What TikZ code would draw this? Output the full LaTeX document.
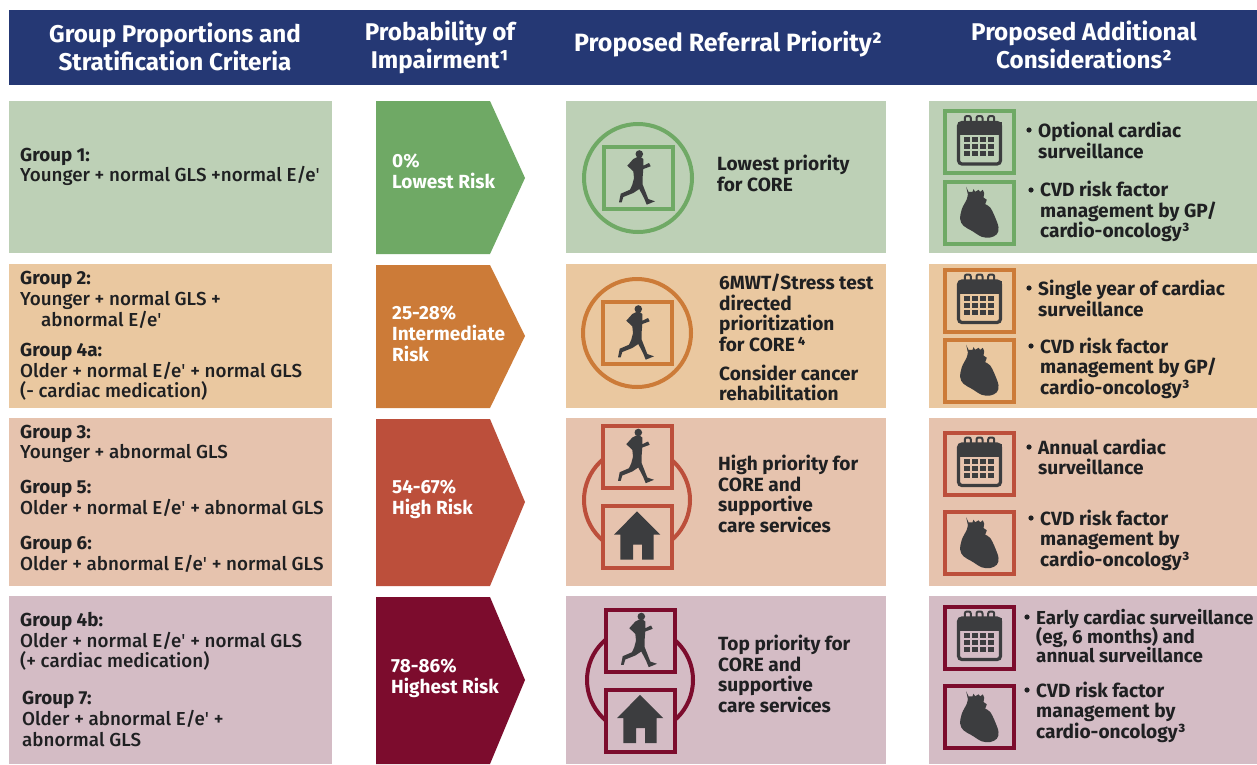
\documentclass[tikz,border=0pt]{standalone}
\usepackage{fontspec}
\setmainfont{Fira Sans}[UprightFont=* Medium,BoldFont=* Bold]
\newfontfamily\primefont{Fira Sans}
\newcommand{\pr}{{\primefont'}}
\newcommand{\sups}[1]{{\addfontfeature{VerticalPosition=Superior}#1}}
\definecolor{hdr}{HTML}{253874}
\definecolor{ink}{HTML}{1F2022}
\definecolor{ic}{HTML}{3C3D3F}
\definecolor{ba}{HTML}{BDD0B6}\definecolor{aa}{HTML}{6FA965}
\definecolor{bb}{HTML}{EAC8A0}\definecolor{ab}{HTML}{CC7B38}
\definecolor{bc}{HTML}{E6C3AE}\definecolor{ac}{HTML}{BC4F3B}
\definecolor{bd}{HTML}{D4BCC5}\definecolor{ad}{HTML}{7C0C2D}
\tikzset{x=1pt,y=-1pt,
 headtxt/.style={text=white,font=\fontsize{24.2}{28}\selectfont\bfseries,align=center,inner sep=0pt},
 gtxt/.style={text=ink,font=\fontsize{18.8}{20.7}\selectfont,align=left,anchor=west,inner sep=0pt},
 ptxt/.style={text=ink,font=\fontsize{19.1}{20.5}\selectfont\bfseries,align=left,anchor=west,inner sep=0pt},
 atxt/.style={text=white,font=\fontsize{19}{20.7}\selectfont\bfseries,align=left,anchor=west,inner sep=0pt},
 ring/.style={line width=4pt},
 pics/runner/.style={code={
  \fill[ic] (1.3,-24) circle (3.8);
  \fill[ic] (-0.7,-21)--(-4.7,-19)--(-10.7,-12.3)--(-4.7,-6.7)--(-4,0)--(-5.7,6.7)--(-8,11.7)--(-17.3,15.7)--(-19,24.3)--(-16.3,24.3)--(-14.7,19)--(-4.7,15)--(1.3,11)--(6,20)--(8.7,26.7)--(17,23.3)--(10.3,21)--(4.7,6.7)--(4.7,-1.7)--(5.3,-9)--(12.7,-11.7)--(11,-15)--(5.3,-12.3)--(5.3,-19)--(2.7,-21)--cycle;
 }},
 pics/heart/.style={code={
  \fill[ic] (-13.3,-25.7)--(-11,-20.7)--(-7,-20.7)--(-6,-23.3)--(-4.3,-20.7)--(-1,-22.7)--(0.7,-20.7)--(3.3,-22.7)--(4.7,-19.3)--(4,-15)--(7.3,-12.7)--
   plot[smooth,tension=0.6] coordinates {(5.7,-8.3) (10.7,-5) (15.7,5) (19,15) (17.3,21.7) (10.7,25) (2.3,24.3) (-7.7,18.3) (-16,13.3) (-19.3,6.7) (-17.7,-3.3) (-12.7,-13.3) (-11.7,-18.3)} -- cycle;
 }},
 pics/house/.style={code={
  \fill[ic] (0,-25.7)--(23.3,-2.3)--(16.7,-2.3)--(16.7,22.7)--(5,22.7)--(5,7.7)--(-4,7.7)--(-4,22.7)--(-16.7,22.7)--(-16.7,-2.3)--(-23,-2.3)--cycle;
 }},
 pics/cal/.style={code={
  \draw[ic,line width=3.2pt,rounded corners=3.5pt] (-21,-19.5) rectangle (21,22);
  \fill[ic] (-22,-20) rectangle (22,-7);
  \foreach \xx in {-11.7,0,11.7}{
   \draw[ic,line width=2pt,fill=none,rounded corners=2pt] (\xx-3,-15) -- (\xx-3,-26) -- (\xx+3,-26) -- (\xx+3,-15);
  }
  \foreach \xx in {-16,-8,0,8}{\foreach \yy in {-5,2,9}{
   \fill[ic] (\xx,\yy) rectangle +(6.2,5.2);
  }}
 }},
 pics/runbox/.style n args={2}{code={
  \draw[line width=4pt,draw=#1,fill=#2] (-34.5,-31) rectangle (34.5,31);
  \pic {runner};
 }},
 pics/housebox/.style n args={2}{code={
  \draw[line width=4pt,draw=#1,fill=#2] (-34.5,-31) rectangle (34.5,31);
  \pic {house};
 }},
 pics/calbox/.style={code={
  \draw[line width=4pt,draw=#1] (-34.5,-31) rectangle (34.5,31);
  \pic {cal};
 }},
 pics/heartbox/.style={code={
  \draw[line width=4pt,draw=#1] (-34.5,-31) rectangle (34.5,31);
  \pic {heart};
 }},
}
\newcommand{\chev}[4]{\fill[#4] (376,#2) -- (490,#2) -- (525,#3) -- (490,#1) -- (376,#1) -- cycle;}
\newcommand{\bull}[2]{\fill[ink] (#1,#2) circle (2.6);}
\begin{document}
\begin{tikzpicture}
\useasboundingbox (0,0) rectangle (1257,764);
\fill[white] (0,0) rectangle (1257,764);
\fill[hdr] (9,10) rectangle (1257,85);
\node[headtxt] (h1) at (175,47) {Group Proportions and\\Stratification Criteria};
\node[headtxt] (h2) at (440,47) {Probability of\\Impairment\sups{1}};
\node[headtxt,font=\fontsize{25}{28}\selectfont\bfseries] (h3) at (728,44) {Proposed Referral Priority\sups{2}};
\node[headtxt] (h4) at (1084,45) {Proposed Additional\\Considerations\sups{2}};
% bands
\fill[ba] (9,101) rectangle (332,253); \fill[ba] (566,101) rectangle (886,253); \fill[ba] (929,101) rectangle (1257,253);
\fill[bb] (9,264) rectangle (332,408); \fill[bb] (566,264) rectangle (886,408); \fill[bb] (929,264) rectangle (1257,408);
\fill[bc] (9,418) rectangle (332,586); \fill[bc] (566,418) rectangle (886,586); \fill[bc] (929,418) rectangle (1257,586);
\fill[bd] (9,596) rectangle (332,764); \fill[bd] (566,596) rectangle (886,764); \fill[bd] (929,596) rectangle (1257,764);
% chevrons
\chev{254}{101}{178}{aa}
\chev{408}{265}{336}{ab}
\chev{586}{419}{502}{ac}
\chev{764}{597}{680}{ad}
% column 1
\node[gtxt] (g1) at (20,167) {\textbf{Group 1:}\\Younger + normal GLS +normal E/e\pr};
\node[gtxt] (g2) at (20,300) {\textbf{Group 2:}\\Younger + normal GLS +\\\hspace*{21pt}abnormal E/e\pr};
\node[gtxt] (g4a) at (20,372) {\textbf{Group 4a:}\\Older + normal E/e\pr{} + normal GLS\\(- cardiac medication)};
\node[gtxt] (g3) at (20,444) {\textbf{Group 3:}\\Younger + abnormal GLS};
\node[gtxt] (g5) at (20,498.5) {\textbf{Group 5:}\\Older + normal E/e\pr{} + abnormal GLS};
\node[gtxt] (g6) at (20,554.5) {\textbf{Group 6:}\\Older + abnormal E/e\pr{} + normal GLS};
\node[gtxt] (g4b) at (20,641.5) {\textbf{Group 4b:}\\Older + normal E/e\pr{} + normal GLS\\(+ cardiac medication)};
\node[gtxt] (g7) at (22,719) {\textbf{Group 7:}\\Older + abnormal E/e\pr{} +\\abnormal GLS};
% column 2
\node[atxt] (r1) at (392,171.5) {0\%\\Lowest Risk};
\node[atxt] (r2) at (392,334) {25-28\%\\Intermediate\\Risk};
\node[atxt] (r3) at (392,499.5) {54-67\%\\High Risk};
\node[atxt] (r4) at (391,678.5) {78-86\%\\Highest Risk};
% column 3 icons
\draw[ring,aa] (638,178) circle (54); \pic at (638,178) {runbox={aa}{ba}};
\draw[ring,ab] (637,333) circle (54); \pic at (637,333) {runbox={ab}{bb}};
\draw[ring,ac] (637,500) circle (53); \pic at (637,456.5) {runbox={ac}{bc}}; \pic at (637,537) {housebox={ac}{bc}};
\draw[ring,ad] (640,680) circle (53); \pic at (640,640.5) {runbox={ad}{bd}}; \pic at (640,720.5) {housebox={ad}{bd}};
% column 3 text
\node[ptxt] (p1) at (717,173.5) {Lowest priority\\for CORE};
\node[ptxt] (p2) at (719,313) {6MWT/Stress test\\directed\\prioritization\\for CORE\,\sups{4}};
\node[ptxt] (p2b) at (719,383) {Consider cancer\\rehabilitation};
\node[ptxt] (p3) at (718,494) {High priority for\\CORE and\\supportive\\care services};
\node[ptxt] (p4) at (718,674) {Top priority for\\CORE and\\supportive\\care services};
% column 4 icons
\pic at (979.5,142) {calbox=aa}; \pic at (979.5,212.5) {heartbox=aa};
\pic at (979.5,300.5) {calbox=ab}; \pic at (979.5,370.5) {heartbox=ab};
\pic at (979.5,463.5) {calbox=ac}; \pic at (979.5,543) {heartbox=ac};
\pic at (979.5,637.5) {calbox=ad}; \pic at (979.5,717) {heartbox=ad};
% column 4 text
\bull{1029}{130} \node[ptxt] (c1) at (1038,140.5) {Optional cardiac\\surveillance};
\bull{1031}{190} \node[ptxt] (c2) at (1040,211.5) {CVD risk factor\\management by GP/\\cardio-oncology\sups{3}};
\bull{1029}{288} \node[ptxt] (c3) at (1038,298.5) {Single year of cardiac\\surveillance};
\bull{1031}{346} \node[ptxt] (c4) at (1040,368) {CVD risk factor\\management by GP/\\cardio-oncology\sups{3}};
\bull{1029}{447} \node[ptxt] (c5) at (1038,457) {Annual cardiac\\surveillance};
\bull{1031}{518} \node[ptxt] (c6) at (1040,540) {CVD risk factor\\management by\\cardio-oncology\sups{3}};
\bull{1027}{617} \node[ptxt,font=\fontsize{18.8}{19}\selectfont\bfseries] (c7) at (1036,636) {Early cardiac surveillance\\[-2pt](eg, 6 months) and\\[-2pt]annual surveillance};
\bull{1027}{690} \node[ptxt] (c8) at (1036,712) {CVD risk factor\\management by\\cardio-oncology\sups{3}};
\end{tikzpicture}
\end{document}
